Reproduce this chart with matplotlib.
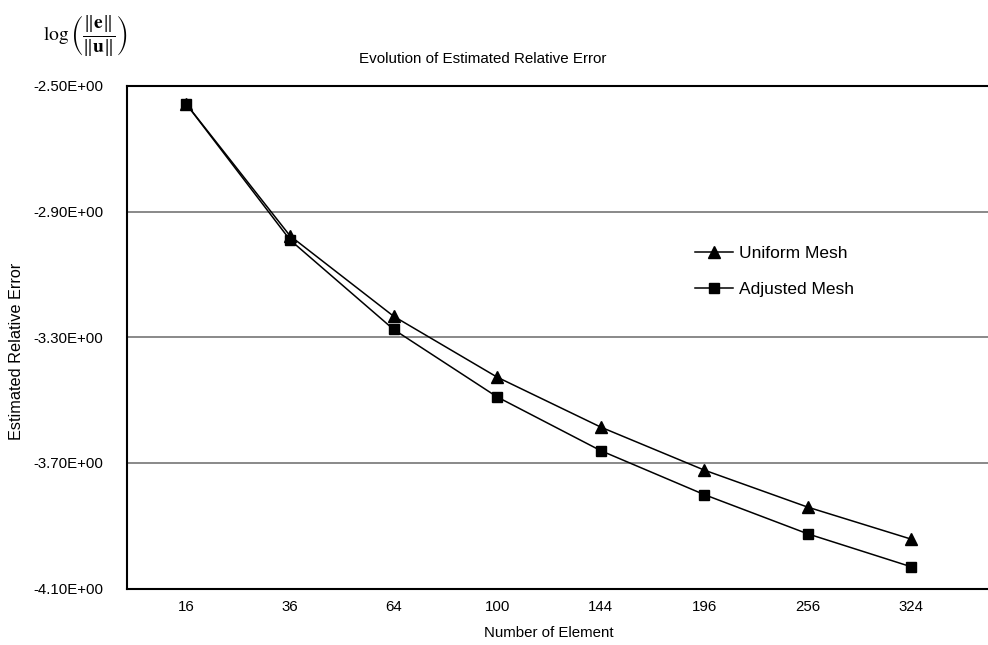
import matplotlib
matplotlib.use("Agg")
import matplotlib.pyplot as plt
import numpy as np

# Mesh sizes and estimated relative error (log10 of ||e||/||u||)
elements = ["16", "36", "64", "100", "144", "196", "256", "324"]
uniform_mesh = [-2.558, -2.977, -3.233, -3.427, -3.586, -3.723, -3.841, -3.943]
adjusted_mesh = [-2.558, -2.990, -3.275, -3.490, -3.661, -3.801, -3.926, -4.031]
y_ticks = [-4.1, -3.7, -3.3, -2.9, -2.5]

plt.rcParams["font.family"] = ["Liberation Sans", "DejaVu Sans"]
plt.rcParams["mathtext.fontset"] = "stix"

W, H = 988, 645
fig = plt.figure(figsize=(W / 100, H / 100), dpi=100)
ax = fig.add_axes([127 / W, 1 - 588.5 / H, 1 - 127 / W, (588.5 - 86) / H])

x = np.arange(len(elements))
ax.plot(x, uniform_mesh, color="black", lw=1.1, marker="^", ms=8.5,
        label="Uniform Mesh", zorder=3)
ax.plot(x, adjusted_mesh, color="black", lw=1.1, marker="s", ms=7.5,
        label="Adjusted Mesh", zorder=3)

ax.set_xlim(-0.574, 7.74)
ax.set_ylim(-4.1, -2.5)
ax.set_xticks(x)
ax.set_xticklabels(elements)
ax.set_yticks(y_ticks)
ax.set_yticklabels([f"{v:.2E}" for v in y_ticks])
ax.tick_params(axis="both", length=0, labelsize=10.8)
ax.tick_params(axis="y", pad=17)
ax.tick_params(axis="x", pad=8)

ax.yaxis.grid(True, color="#808080", lw=1.3)
ax.set_axisbelow(True)
for side in ("left", "bottom", "top"):
    ax.spines[side].set_linewidth(1.5)
    ax.spines[side].set_color("black")
ax.spines["right"].set_visible(False)

leg = ax.legend(loc="upper left", bbox_to_anchor=(695 / W, 1 - 246 / H),
                bbox_transform=fig.transFigure, frameon=False, fontsize=12.5,
                handlelength=2.2, handletextpad=0.35, labelspacing=1.18,
                borderpad=0, borderaxespad=0)

fig.text(483 / W, 1 - 59 / H, "Evolution of Estimated Relative Error",
         ha="center", va="center", fontsize=10.9)
fig.text(549 / W, 1 - 633 / H, "Number of Element",
         ha="center", va="center", fontsize=10.8)
fig.text(17 / W, 1 - 351 / H, "Estimated Relative Error",
         ha="center", va="center", rotation=90, fontsize=11.7)
fig.text(85 / W, 1 - 36 / H,
         r"$\log\left(\dfrac{\|\mathbf{e}\|}{\|\mathbf{u}\|}\right)$",
         ha="center", va="center", fontsize=14)

fig.savefig("out.png", dpi=100)
